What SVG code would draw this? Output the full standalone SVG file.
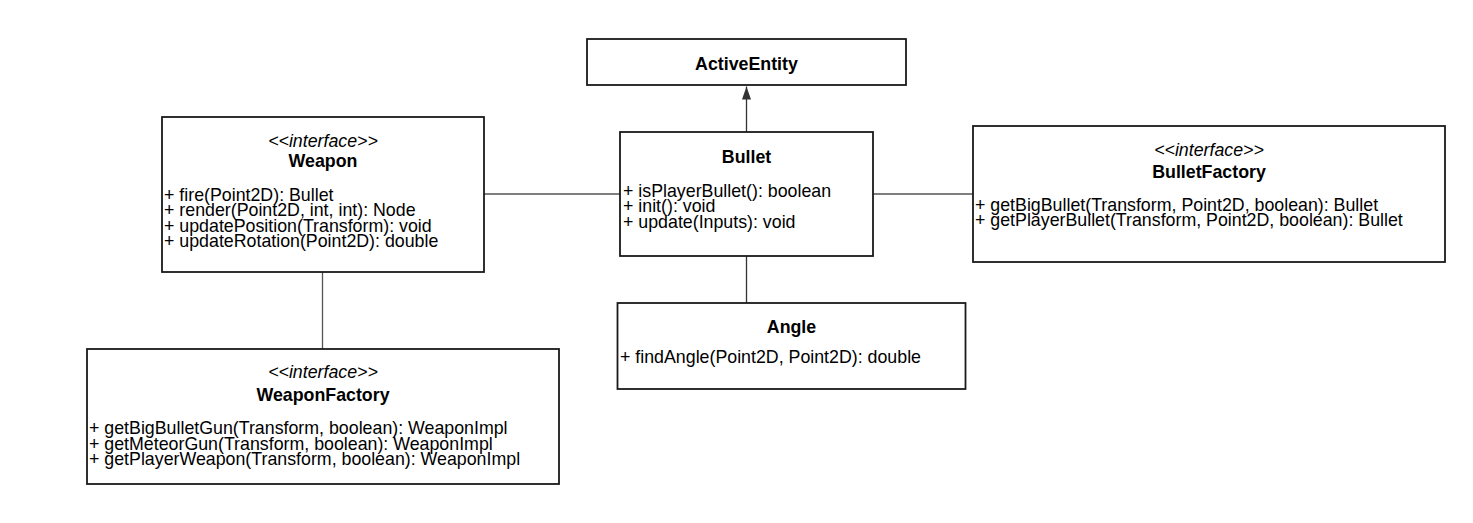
<svg xmlns="http://www.w3.org/2000/svg" width="1473" height="523" viewBox="0 0 1473 523">
<defs>
<style>
.box{fill:#fff;stroke:#1a1a1a;stroke-width:1.8}
.t{font-family:"Liberation Sans",Arial,sans-serif;font-size:17.8px;fill:#000}
.b{font-weight:bold;text-anchor:middle}
.s{font-style:italic;text-anchor:middle}
.conn{stroke:#555;stroke-width:1.3;fill:none}
</style>
<marker id="arr" markerWidth="13" markerHeight="10" refX="13" refY="5" orient="auto" markerUnits="userSpaceOnUse" viewBox="0 0 13 10">
<path d="M0,0.5 L13,5 L0,9.5 Z" fill="#333"/>
</marker>
</defs>
<rect width="1473" height="523" fill="#fff"/>
<g id="connectors">
<line class="conn" x1="746.5" y1="132" x2="746.5" y2="86.5" marker-end="url(#arr)" style="stroke:#333"/>
<line class="conn" x1="484" y1="194" x2="620" y2="194"/>
<line class="conn" x1="873" y1="194" x2="973" y2="194"/>
<line class="conn" x1="746.5" y1="256" x2="746.5" y2="303" style="stroke:#333"/>
<line class="conn" x1="322.5" y1="272" x2="322.5" y2="349"/>
</g>
<g id="ActiveEntity">
<rect class="box" x="587" y="39" width="319" height="46"/>
<text class="t b" x="746.5" y="70">ActiveEntity</text>
</g>
<g id="Bullet">
<rect class="box" x="620" y="132" width="253" height="124"/>
<text class="t b" x="746.5" y="163">Bullet</text>
<text class="t" x="623" y="196.5">+ isPlayerBullet(): boolean</text>
<text class="t" x="623" y="212">+ init(): void</text>
<text class="t" x="623" y="227.5">+ update(Inputs): void</text>
</g>
<g id="Weapon">
<rect class="box" x="162" y="117" width="322" height="155"/>
<text class="t s" x="323" y="146.5">&lt;&lt;interface&gt;&gt;</text>
<text class="t b" x="323" y="167">Weapon</text>
<text class="t" x="164" y="200.5">+ fire(Point2D): Bullet</text>
<text class="t" x="164" y="216">+ render(Point2D, int, int): Node</text>
<text class="t" x="164" y="231.5">+ updatePosition(Transform): void</text>
<text class="t" x="164" y="247">+ updateRotation(Point2D): double</text>
</g>
<g id="WeaponFactory">
<rect class="box" x="87" y="349" width="472" height="135"/>
<text class="t s" x="323" y="378">&lt;&lt;interface&gt;&gt;</text>
<text class="t b" x="323" y="400.5">WeaponFactory</text>
<text class="t" x="89" y="434">+ getBigBulletGun(Transform, boolean): WeaponImpl</text>
<text class="t" x="89" y="449.5">+ getMeteorGun(Transform, boolean): WeaponImpl</text>
<text class="t" x="89" y="465">+ getPlayerWeapon(Transform, boolean): WeaponImpl</text>
</g>
<g id="BulletFactory">
<rect class="box" x="973" y="126" width="472" height="136"/>
<text class="t s" x="1209" y="156">&lt;&lt;interface&gt;&gt;</text>
<text class="t b" x="1209" y="178">BulletFactory</text>
<text class="t" x="975" y="210.5">+ getBigBullet(Transform, Point2D, boolean): Bullet</text>
<text class="t" x="975" y="226">+ getPlayerBullet(Transform, Point2D, boolean): Bullet</text>
</g>
<g id="Angle">
<rect class="box" x="617.5" y="303" width="348" height="86"/>
<text class="t b" x="791.5" y="333">Angle</text>
<text class="t" x="620" y="363">+ findAngle(Point2D, Point2D): double</text>
</g>
</svg>
